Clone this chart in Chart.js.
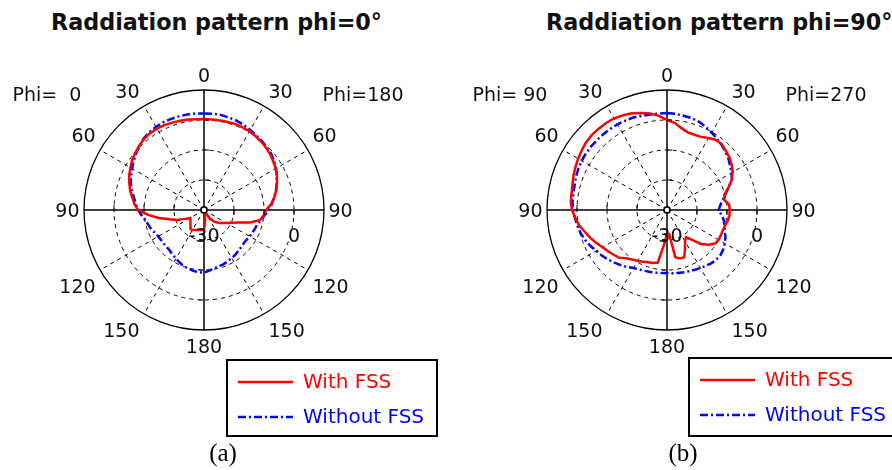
<!DOCTYPE html>
<html>
<head>
<meta charset="utf-8">
<script src="https://cdn.jsdelivr.net/npm/chart.js@4.4.1/dist/chart.umd.min.js"></script>
<style>
  html, body { margin: 0; padding: 0; background: #fff; }
  #page { position: relative; width: 892px; height: 470px; overflow: hidden; background: #fff; }
  canvas { position: absolute; top: 0; }
  .title { position: absolute; top: 11px; font: bold 22.3px "DejaVu Sans"; line-height: 22px; color: #111; white-space: nowrap; }
  .caption { position: absolute; top: 439px; width: 60px; text-align: center; font: 25px "Liberation Serif"; line-height: 28px; color: #000; }
</style>
</head>
<body>
<div id="page">
  <div class="title" style="left:51px">Raddiation pattern phi=0°</div>
  <div class="title" style="left:546px">Raddiation pattern phi=90°</div>
  <canvas id="chartA" width="446" height="470" style="left:0"></canvas>
  <canvas id="chartB" width="446" height="470" style="left:446px"></canvas>
  <div class="caption" style="left:193px">(a)</div>
  <div class="caption" style="left:653px">(b)</div>
</div>
<script>
// plot angle in degrees, clockwise from the top of the plot
const angles = [0, 5, 10, 15, 20, 25, 30, 35, 40, 45, 50, 55, 60, 65, 70, 75, 80, 85,
  90, 95, 100, 105, 110, 115, 120, 125, 130, 135, 140, 145, 150, 155, 160, 165, 170, 175,
  180, 185, 190, 195, 200, 205, 210, 215, 220, 225, 230, 235, 240, 245, 250, 255, 260, 265,
  270, 275, 280, 285, 290, 295, 300, 305, 310, 315, 320, 325, 330, 335, 340, 345, 350, 355];

// labels round the rim, one every 30 degrees of plot angle
const thetaTicks = ['0', '30', '60', '90', '120', '150', '180', '150', '120', '90', '60', '30'];
// radial labels (dB)
const radialTicks = [-30, 0];

const seriesNames = ['With FSS', 'Without FSS'];

// (a) phi = 0 cut, gain in dB
const withFssA = [0.3, 0.3, 0.3, 0.4, 0.5, 0.4, 0.3, 0.0, -0.3, -0.7, -1.2, -1.8, -2.4, -3.2, -4.1, -5.1, -6.2, -7.5,
  -9.3, -10.0, -11.0, -14.0, -17.7, -20.0, -21.3, -22.5, -23.3, -24.2, -25.0, -26.7, -28.8, -29.2, -29.2, -29.0, -28.1, -26.2,
  -23.3, -23.3, -23.2, -23.1, -22.9, -22.6, -22.3, -22.2, -23.0, -23.6, -24.1, -24.5, -24.7, -23.0, -20.3, -18.0, -14.7, -11.3,
  -8.0, -6.7, -5.7, -4.5, -3.5, -2.5, -1.7, -0.8, -0.2, 0.5, 1.0, 1.3, 1.3, 1.2, 1.0, 0.8, 0.6, 0.4];
const withoutFssA = [2.2, 2.2, 2.2, 1.9, 1.7, 1.3, 0.8, 0.4, 0.0, -0.4, -0.8, -1.5, -2.3, -3.2, -4.2, -5.2, -6.3, -7.3,
  -8.4, -9.7, -10.7, -11.6, -11.9, -12.2, -12.4, -12.7, -12.7, -12.5, -12.2, -11.8, -11.5, -11.2, -10.8, -10.6, -10.3, -9.7,
  -9.1, -9.2, -9.4, -9.8, -10.1, -10.7, -11.3, -11.8, -12.3, -12.5, -12.5, -12.5, -12.4, -11.9, -11.3, -10.8, -10.2, -9.2,
  -8.0, -7.2, -6.3, -5.2, -4.0, -3.2, -2.3, -1.4, -0.5, 0.3, 1.2, 1.7, 2.0, 2.2, 2.3, 2.3, 2.3, 2.3];

// (b) phi = 90 cut, gain in dB
const withFssB = [0.0, -0.8, -2.3, -3.2, -3.3, -3.1, -2.3, -1.5, -1.5, -2.2, -2.8, -3.7, -4.7, -6.2, -8.2, -10.2, -10.6, -9.2,
  -9.1, -9.1, -9.4, -10.0, -10.2, -10.2, -10.1, -10.5, -12.0, -14.0, -17.0, -18.9, -18.0, -15.8, -13.2, -13.3, -14.0, -22.0,
  -22.0, -18.3, -12.2, -11.7, -11.5, -11.0, -10.5, -9.8, -9.0, -7.5, -6.8, -6.0, -5.2, -4.0, -2.8, -1.7, -0.3, 0.7,
  1.7, 2.2, 2.3, 2.6, 3.2, 3.7, 4.2, 4.7, 5.2, 5.4, 5.4, 5.4, 5.3, 4.8, 4.3, 3.5, 2.7, 1.5];
const withoutFssB = [2.3, 2.2, 1.9, 1.7, 1.3, 0.6, -0.2, -1.0, -1.7, -2.5, -3.3, -4.3, -5.2, -6.1, -8.2, -9.8, -11.2, -12.2,
  -12.8, -11.8, -10.8, -10.2, -9.5, -8.5, -7.8, -7.1, -6.7, -6.7, -6.9, -7.3, -7.7, -8.0, -8.3, -8.5, -8.7, -8.8,
  -9.0, -8.9, -8.8, -8.6, -8.4, -8.1, -7.7, -6.8, -6.0, -5.2, -4.3, -3.5, -2.8, -1.8, -0.9, -0.2, 0.3, 0.8,
  1.3, 1.6, 1.7, 1.9, 2.3, 2.6, 2.8, 3.0, 3.0, 3.0, 3.0, 3.0, 3.0, 2.9, 2.8, 2.5, 2.3, 2.3];

const FONT = '"DejaVu Sans", Verdana, sans-serif';

// rim labels, radial labels, phi labels, centre mark and the boxed legend
const polarDecor = {
  id: 'polarDecor',
  afterDatasetsDraw(chart, args, opts) {
    const ctx = chart.ctx;
    const r = chart.scales.r;
    const cx = r.xCenter, cy = r.yCenter, R = r.drawingArea;
    ctx.save();

    // small ticks on the four axes at each ring
    ctx.strokeStyle = '#000';
    ctx.lineWidth = 1;
    ctx.setLineDash([]);
    [0, 18, 36, 54].forEach(i => {
      const a = r.getIndexAngle(i) - Math.PI / 2;
      const px = -Math.sin(a), py = Math.cos(a);
      r.ticks.forEach((t, k) => {
        if (k === 0 || k === r.ticks.length - 1) return;
        const p = r.getPointPosition(i, r.getDistanceFromCenterForValue(t.value));
        ctx.beginPath();
        ctx.moveTo(p.x, p.y);
        ctx.lineTo(p.x + px * 5, p.y + py * 5);
        ctx.stroke();
      });
    });

    // centre mark
    ctx.beginPath();
    ctx.arc(cx, cy, 3, 0, Math.PI * 2);
    ctx.fillStyle = '#fff';
    ctx.fill();
    ctx.lineWidth = 1.5;
    ctx.stroke();

    // rim labels, set off from the rim point towards its quadrant
    ctx.font = '19px ' + FONT;
    ctx.fillStyle = '#111';
    ctx.textAlign = 'center';
    ctx.textBaseline = 'middle';
    const step = angles.length / thetaTicks.length;
    const sgn = v => (v > 1 ? 1 : v < -1 ? -1 : 0);
    thetaTicks.forEach((t, k) => {
      const i = k * step;
      const w = ctx.measureText(t).width;
      const p = r.getPointPosition(i, R);
      const ox = sgn(p.x - cx) * (w / 2 + 4.5);
      const oy = sgn(p.y - cy) * 15.5;
      ctx.fillText(t, p.x + ox, p.y + oy + 2.5);
    });

    // radial limits, written under the right half of the horizontal axis
    radialTicks.forEach(v => {
      ctx.fillText(String(v), cx + r.getDistanceFromCenterForValue(v), cy + 27);
    });

    // phi labels
    ctx.fillText(opts.phi[0], cx - 157, cy - 114);
    ctx.fillText(opts.phi[1], cx + 159, cy - 114);

    // legend
    const b = opts.box;
    ctx.strokeStyle = '#000';
    ctx.lineWidth = 2;
    ctx.strokeRect(b.x, b.y, b.w, b.h);
    ctx.font = '20px ' + FONT;
    ctx.textAlign = 'left';
    chart.data.datasets.forEach((ds, k) => {
      const y = b.y + (k === 0 ? 22 : 57);
      ctx.strokeStyle = ds.borderColor;
      ctx.lineWidth = ds.borderWidth;
      ctx.setLineDash(ds.borderDash || []);
      ctx.beginPath();
      ctx.moveTo(b.x + 11, y);
      ctx.lineTo(b.x + 66, y);
      ctx.stroke();
      ctx.fillStyle = ds.borderColor;
      ctx.fillText(ds.label, b.x + 76, y + 1);
    });
    ctx.restore();
  }
};

function makeChart(id, withFss, withoutFss, phi, pad, box) {
  return new Chart(document.getElementById(id), {
    type: 'radar',
    data: {
      labels: angles,
      datasets: [{
        label: seriesNames[0],
        data: withFss,
        borderColor: '#ff0000',
        borderWidth: 2.5,
        borderDash: [],
        pointRadius: 0,
        fill: false,
        tension: 0
      }, {
        label: seriesNames[1],
        data: withoutFss,
        borderColor: '#0000ff',
        borderWidth: 2.5,
        borderDash: [8, 3, 2, 3],
        pointRadius: 0,
        fill: false,
        tension: 0
      }]
    },
    options: {
      responsive: false,
      animation: false,
      layout: { padding: pad },
      plugins: {
        legend: { display: false },
        tooltip: { enabled: false },
        polarDecor: { phi: phi, box: box }
      },
      scales: {
        r: {
          min: -30,
          max: 10,
          ticks: { display: false, stepSize: 10 },
          pointLabels: { display: false },
          grid: {
            circular: true,
            color: c => c.index === 0 ? 'rgba(0,0,0,0)' : '#000',
            lineWidth: c => c.index === 4 ? 1.3 : 1
          },
          border: { dash: c => c.index === 4 ? [] : [4, 4] },
          angleLines: {
            color: '#000',
            lineWidth: c => c.index % 6 === 0 ? (c.index % 18 === 0 ? 1.5 : 1) : 0,
            borderDash: c => c.index % 18 === 0 ? [] : [4, 4]
          }
        }
      }
    },
    plugins: [polarDecor]
  });
}

makeChart('chartA', withFssA, withoutFssA, ['Phi=  0', 'Phi=180'],
  { left: 84, right: 122, top: 90, bottom: 140 }, { x: 227, y: 360, w: 210, h: 76 });
makeChart('chartB', withFssB, withoutFssB, ['Phi= 90', 'Phi=270'],
  { left: 101, right: 105, top: 90, bottom: 140 }, { x: 243, y: 358, w: 260, h: 78 });
</script>
</body>
</html>
